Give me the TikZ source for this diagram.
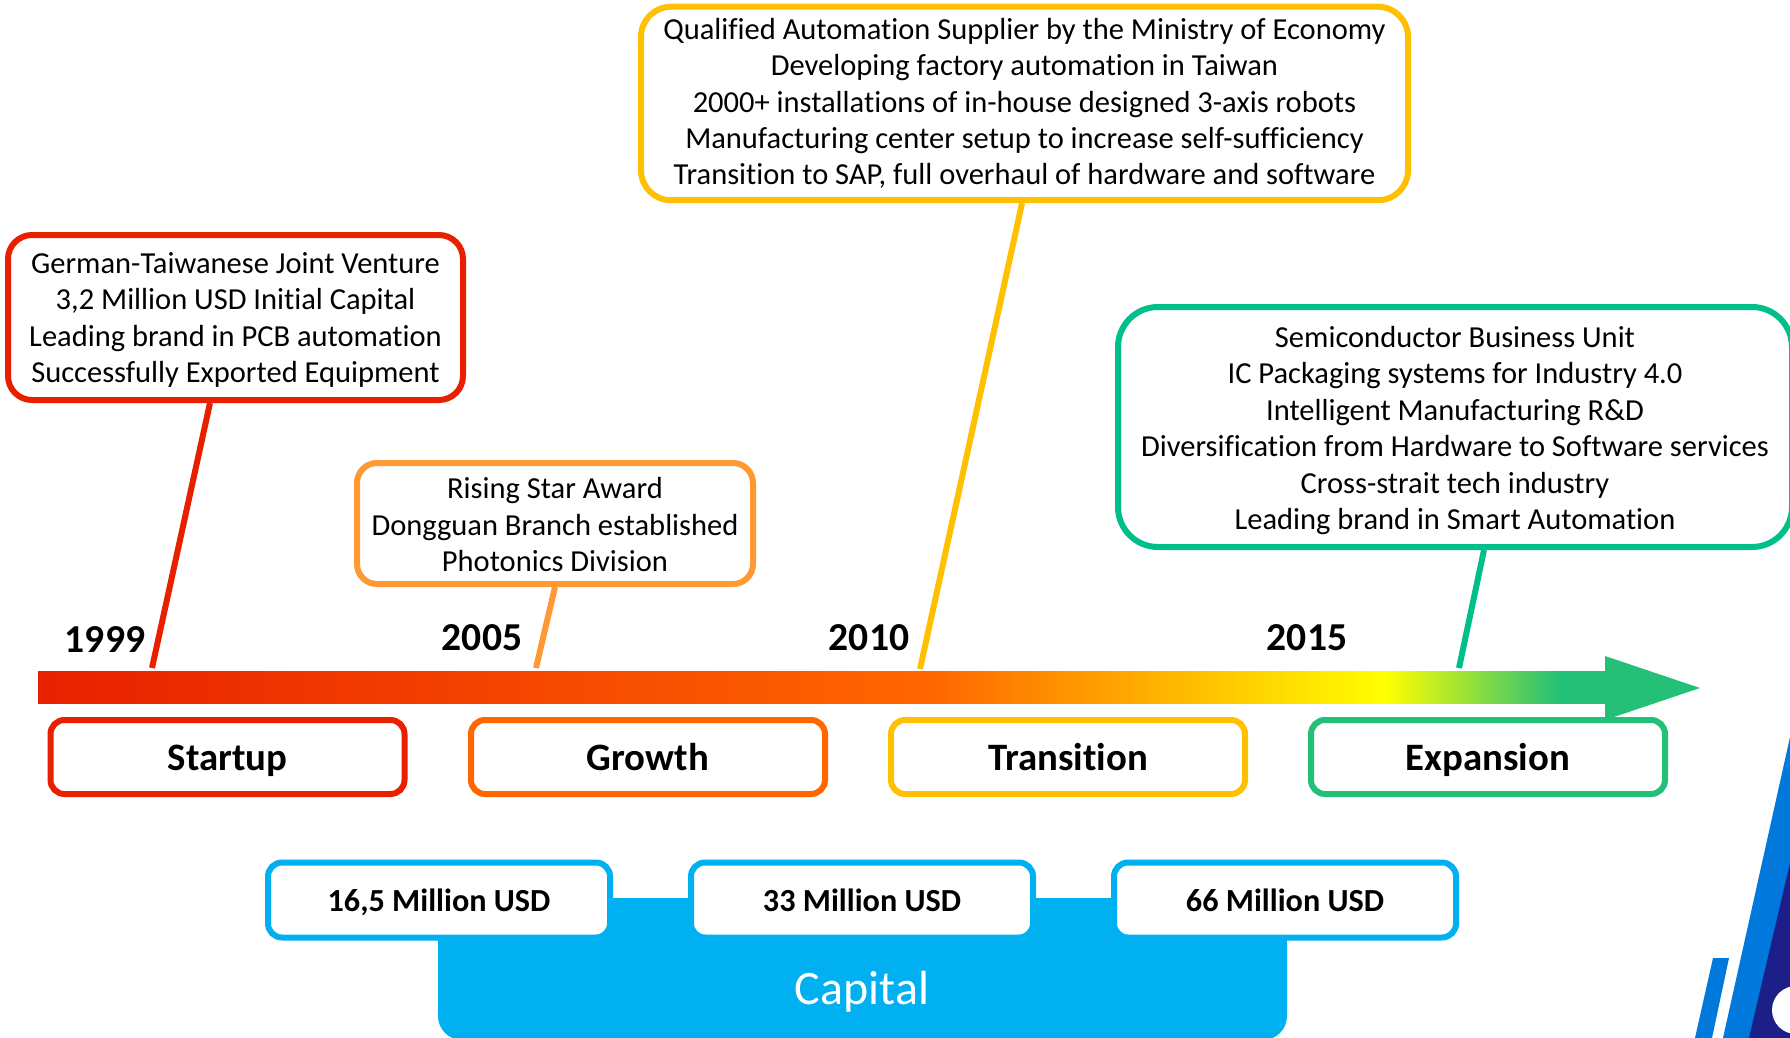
\documentclass[tikz,border=0pt]{standalone}
\usepackage{fontspec}
\setmainfont{Carlito}[Ligatures=NoCommon]

\definecolor{startupRed}{HTML}{E82000}
\definecolor{growthOrange}{HTML}{FF6600}
\definecolor{noteOrange}{HTML}{FF9933}
\definecolor{transYellow}{HTML}{FFC000}
\definecolor{expandGreen}{HTML}{25C078}
\definecolor{noteGreen}{HTML}{00BF8A}
\definecolor{capitalBlue}{HTML}{00B0F0}
\definecolor{logoBlue}{HTML}{0078DC}
\definecolor{logoNavy}{HTML}{1C1F87}

\pgfdeclarehorizontalshading{timelineShade}{100bp}{
  color(0bp)=(startupRed); color(25bp)=(startupRed);
  color(53.5bp)=(growthOrange);
  color(68bp)=(yellow);
  color(73.5bp)=(expandGreen); color(100bp)=(expandGreen)}

\def \noteSize {\fontsize{15.25}{18.2}\selectfont}
\def \stageSize {\fontsize{19.4}{23}\bfseries\selectfont}
\def \yearSize {\fontsize{19.8}{24}\bfseries\selectfont}
\def \moneySize {\fontsize{16.1}{19}\bfseries\selectfont}

\tikzset{
  note/.style={draw, fill=white, line width=3pt, align=center, inner sep=0pt, font=\noteSize},
  stage/.style={draw, fill=white, line width=3pt, rounded corners=7pt, minimum width=177pt, minimum height=37pt, text height=13.3pt, text depth=0.2pt, font=\stageSize},
  money/.style={draw=capitalBlue, fill=white, line width=3pt, rounded corners=7pt, minimum width=171pt, minimum height=37.5pt, text height=11.7pt, text depth=0pt, font=\moneySize},
  year/.style={font=\yearSize},
  link/.style={line width=3pt}
}

\begin{document}
\begin{tikzpicture}[x=0.5pt, y=-0.5pt]
   \useasboundingbox (0, 0) rectangle (1790, 1038);
   \clip (0, 0) rectangle (1790, 1038);

   % logo corner
   \fill[logoBlue] (1790, 737) -- (1790, 1038) -- (1723, 1038) -- cycle;
   \fill[logoNavy] (1790, 863) -- (1790, 1038) -- (1749, 1038) -- cycle;
   \fill[logoBlue] (1713, 958) -- (1729, 958) -- (1712, 1038) -- (1695, 1038) -- cycle;
   \fill[white] (1796, 1010) circle (12pt);

   % capital
   \fill[capitalBlue, rounded corners=12pt] (438, 898) -- (438, 1040) -- (1287, 1040) -- (1287, 898) -- cycle;
   \node[text=white, font=\fontsize{24}{29}\selectfont] (capital) at (862, 992) {Capital};
   \node[money] (money1) at (439, 900) {16,5 Million USD};
   \node[money] (money2) at (862, 900) {33 Million USD};
   \node[money] (money3) at (1285, 900) {66 Million USD};

   % timeline
   \fill[shading=timelineShade] (38, 671) rectangle (1605, 703);
   \fill[expandGreen] (1605, 656) -- (1700, 688) -- (1605, 720) -- cycle;

   \coordinate (redEnd) at (152, 668);
   \coordinate (orangeEnd) at (536, 668);
   \coordinate (yellowEnd) at (920, 669);
   \coordinate (greenEnd) at (1459, 668);

   \node[year] (y1999) at (105, 640) {1999};
   \node[year] (y2005) at (482, 638) {2005};
   \node[year] (y2010) at (869, 638) {2010};
   \node[year] (y2015) at (1307, 638) {2015};

   % notes
   \node[note, draw=startupRed, rounded corners=12pt, minimum width=227.5pt, minimum height=82.5pt, text depth=0pt] (noteRed) at (235.5, 317.5) {German-Taiwanese Joint Venture\\3,2 Million USD Initial Capital\\Leading brand in PCB automation\\Successfully Exported Equipment};
   \node[note, draw=noteOrange, rounded corners=10pt, minimum width=198pt, minimum height=60.5pt, text height=48pt, text depth=0pt] (noteOrange) at (555, 523.5) {Rising Star Award\\Dongguan Branch established\\Photonics Division};
   \node[note, draw=transYellow, rounded corners=15pt, minimum width=383.5pt, minimum height=96.75pt] (noteYellow) at (1024.5, 103.5) {Qualified Automation Supplier by the Ministry of Economy\\Developing factory automation in Taiwan\\2000+ installations of in-house designed 3-axis robots\\Manufacturing center setup to increase self-sufficiency\\Transition to SAP, full overhaul of hardware and software};
   \node[note, draw=noteGreen, rounded corners=20pt, minimum width=337pt, minimum height=120pt, text height=102.5pt, text depth=0pt] (noteGreen) at (1455, 427) {Semiconductor Business Unit\\IC Packaging systems for Industry 4.0\\Intelligent Manufacturing R\&D\\Diversification from Hardware to Software services\\Cross-strait tech industry\\Leading brand in Smart Automation};

   \draw[link, startupRed] ([xshift=-12.75pt]noteRed.south) -- (redEnd);
   \draw[link, noteOrange] (noteOrange.south) -- (orangeEnd);
   \draw[link, transYellow] ([xshift=-1.25pt]noteYellow.south) -- (yellowEnd);
   \draw[link, noteGreen] ([xshift=14.5pt]noteGreen.south) -- (greenEnd);

   % stages
   \node[stage, draw=startupRed] (startup) at (227.5, 757) {Startup};
   \node[stage, draw=growthOrange] (growth) at (648, 757) {Growth};
   \node[stage, draw=transYellow] (transition) at (1068, 757) {Transition};
   \node[stage, draw=expandGreen] (expansion) at (1488, 757) {Expansion};
\end{tikzpicture}
\end{document}
